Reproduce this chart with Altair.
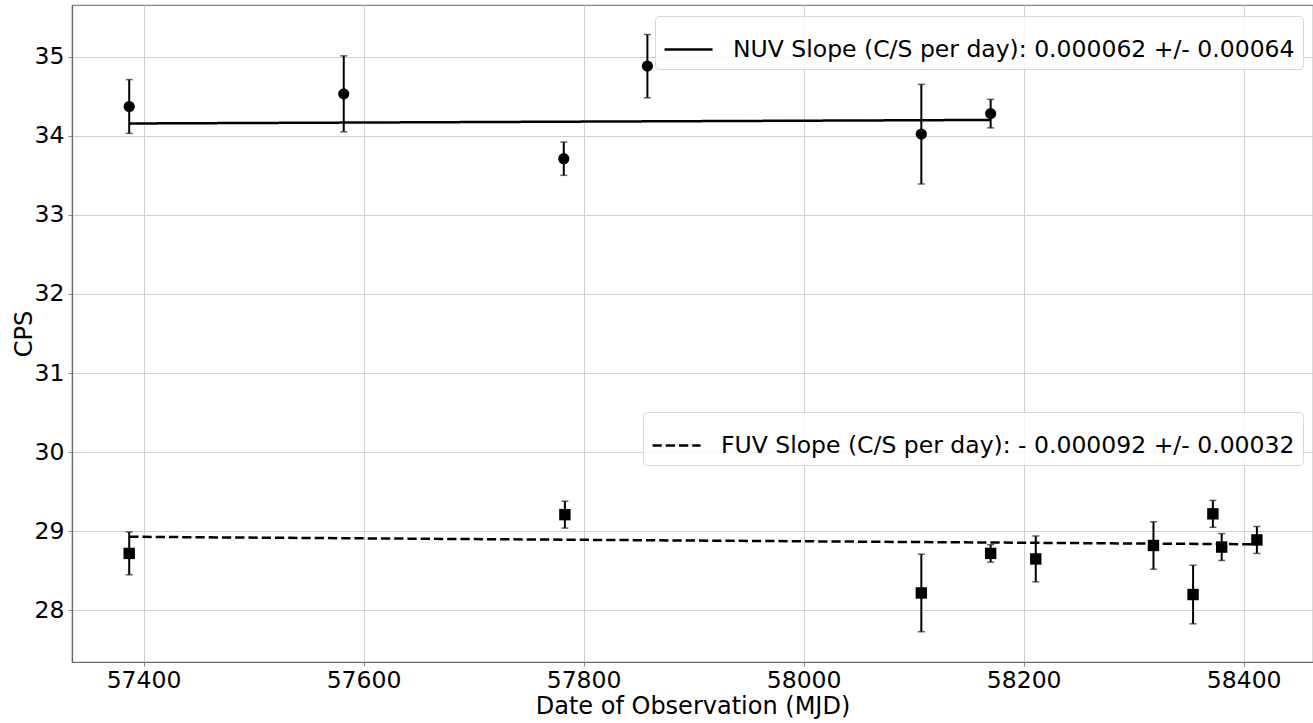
import altair as alt
import pandas as pd

# NUV observations
nuv_mjd = [57387, 57582, 57782, 57858, 58107, 58170]
nuv_cps = [34.37, 34.53, 33.71, 34.88, 34.02, 34.28]
nuv_err = [0.34, 0.48, 0.21, 0.40, 0.63, 0.18]

# FUV observations
fuv_mjd = [57387, 57783, 58107, 58170, 58211, 58318, 58354, 58372, 58380, 58412]
fuv_cps = [28.72, 29.21, 28.22, 28.72, 28.65, 28.82, 28.20, 29.22, 28.80, 28.89]
fuv_err = [0.27, 0.17, 0.49, 0.11, 0.29, 0.30, 0.37, 0.17, 0.17, 0.17]

# fitted lines (end points)
nuv_fit_mjd = [57387, 58170]
nuv_fit_cps = [34.155, 34.20]
fuv_fit_mjd = [57387, 58412]
fuv_fit_cps = [28.93, 28.835]

nuv_label = "NUV Slope (C/S per day): 0.000062 +/- 0.00064"
fuv_label = "FUV Slope (C/S per day): - 0.000092 +/- 0.00032"

x_ticks = [57400, 57600, 57800, 58000, 58200, 58400]
y_ticks = [28, 29, 30, 31, 32, 33, 34, 35]

FONT = "DejaVu Sans"

nuv = pd.DataFrame({"mjd": nuv_mjd, "cps": nuv_cps, "err": nuv_err})
nuv["lo"] = nuv["cps"] - nuv["err"]
nuv["hi"] = nuv["cps"] + nuv["err"]
fuv = pd.DataFrame({"mjd": fuv_mjd, "cps": fuv_cps, "err": fuv_err})
fuv["lo"] = fuv["cps"] - fuv["err"]
fuv["hi"] = fuv["cps"] + fuv["err"]
nuv_fit = pd.DataFrame({"mjd": nuv_fit_mjd, "cps": nuv_fit_cps, "label": nuv_label})
fuv_fit = pd.DataFrame({"mjd": fuv_fit_mjd, "cps": fuv_fit_cps, "label": fuv_label})

xscale = alt.Scale(domain=[57335, 58463], nice=False, zero=False)
yscale = alt.Scale(domain=[27.347, 35.653], nice=False, zero=False)

X = alt.X("mjd:Q", scale=xscale,
          axis=alt.Axis(values=x_ticks, title="Date of Observation (MJD)", format="d",
                        titleY=51, titleBaseline="alphabetic"))
Y = alt.Y("cps:Q", scale=yscale,
          axis=alt.Axis(values=y_ticks, title="CPS", format="d", titleX=-48,
                        titleBaseline="middle"))


def legend(x, y, dash):
    return alt.Legend(
        title=None, orient="none", legendX=x, legendY=y,
        symbolType="stroke", symbolSize=2304, symbolStrokeWidth=2.5,
        symbolStrokeColor="black", symbolDash=dash,
        labelFontSize=23.5, labelFont=FONT, labelColor="black", labelLimit=2000,
        labelOffset=19, padding=8, fillColor="rgba(255,255,255,0.8)",
        strokeColor="#d8d8d8", cornerRadius=4,
    )


nuv_line = alt.Chart(nuv_fit).mark_line(color="black", strokeWidth=2.5).encode(
    x=X, y=Y,
    strokeDash=alt.StrokeDash("label:N", scale=alt.Scale(domain=[nuv_label], range=[[1, 0]]),
                              legend=legend(583, 11, [1, 0])),
)
fuv_line = alt.Chart(fuv_fit).mark_line(color="black", strokeWidth=2.5).encode(
    x=X, y=Y,
    strokeDash=alt.StrokeDash("label:N", scale=alt.Scale(domain=[fuv_label], range=[[9.25, 4]]),
                              legend=legend(571, 407, [9.25, 4])),
)


def errorbars(df):
    base = alt.Chart(df)
    rule = base.mark_rule(color="black", strokeWidth=2).encode(
        x=X, y=alt.Y("lo:Q", scale=yscale), y2="hi:Q")
    cap_lo = base.mark_tick(color="#222", orient="horizontal", size=7, thickness=1.5).encode(
        x=X, y=alt.Y("lo:Q", scale=yscale))
    cap_hi = base.mark_tick(color="#222", orient="horizontal", size=7, thickness=1.5).encode(
        x=X, y=alt.Y("hi:Q", scale=yscale))
    return [rule, cap_lo, cap_hi]


nuv_pts = alt.Chart(nuv).mark_point(shape="circle", filled=True, size=125, color="black",
                                    opacity=1).encode(x=X, y=Y)
fuv_pts = alt.Chart(fuv).mark_point(shape="square", filled=True, size=130, color="black",
                                    opacity=1).encode(x=X, y=Y)

chart = alt.layer(
    *errorbars(nuv), *errorbars(fuv), nuv_line, fuv_line, nuv_pts, fuv_pts
).resolve_scale(strokeDash="independent").resolve_legend(strokeDash="independent").properties(
    width=1241, height=657,
    autosize=alt.AutoSizeParams(type="none"),
    padding={"left": 72, "top": 5, "right": 0, "bottom": 61},
    background="white",
).configure_view(
    stroke="#888888", strokeWidth=1.2,
).configure_axis(
    labelFont=FONT, labelFontSize=23.5, labelColor="black",
    titleFont=FONT, titleFontSize=24, titleColor="black", titleFontWeight="normal",
    gridColor="#d0d0d0", gridWidth=1,
    domainColor="#666666", domainWidth=1.2,
    tickColor="#888888", tickSize=4, labelPadding=3,
).configure_axisX(labelPadding=2).configure_axisY(labelPadding=4)

chart.save("out.html", embed_options={"renderer": "svg", "actions": False})
